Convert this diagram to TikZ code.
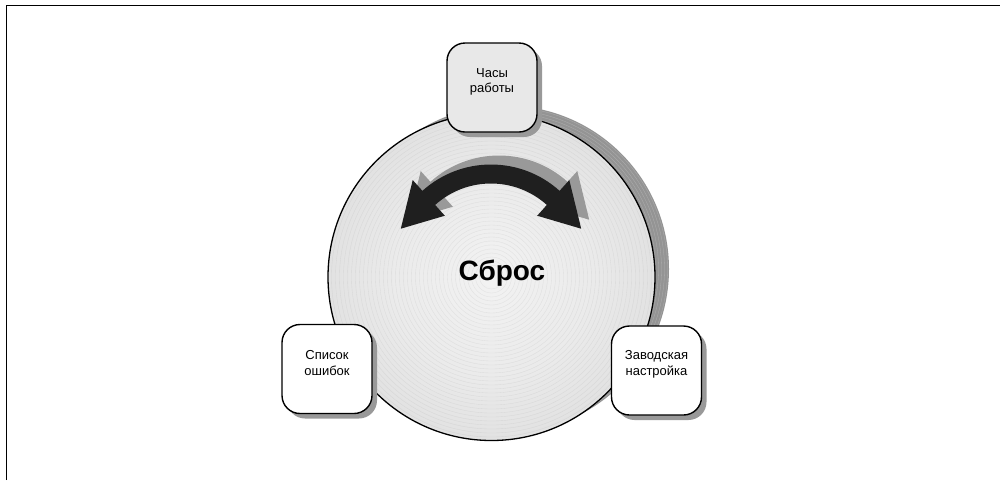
\documentclass[tikz,border=0pt]{standalone}
\usepackage{fontspec}
\setmainfont{Liberation Sans}
\pgfdeclareradialshading{discshade}{\pgfpoint{0bp}{0bp}}{color(0bp)=(black!5); color(15bp)=(black!8); color(35bp)=(black!15); color(50bp)=(black!27)}
\begin{document}
\begin{tikzpicture}[x=1pt,y=-1pt,
  box/.style={draw=black, line width=1.4pt, rounded corners=18pt, minimum width=90pt, minimum height=89pt, inner sep=0pt},
  boxshadow/.style={fill=black!40, rounded corners=18pt, minimum width=90pt, minimum height=89pt, inner sep=0pt},
  lbl/.style={font=\fontsize{13}{15.5}\selectfont, align=center, inner sep=0pt},
  ring/.style={draw=black!40, opacity=0.18, line width=0.35pt},
]
\useasboundingbox (0,0) rectangle (1000,480);
\draw[line width=1pt] (6,480) -- (6,5) -- (1000,5);

% disc shadow
\node[circle, fill=black!42, minimum size=327pt, inner sep=0pt] (discshadow) at (505.5,269) {};
\foreach \r in {150,153,...,163} \draw[white, opacity=0.25, line width=0.3pt] (discshadow.center) circle[radius=\r];
% disc
\node[circle, shading=discshade, minimum size=327pt, inner sep=0pt] (disc) at (491.5,277) {};
\foreach \r in {12,16,...,160} \draw[ring] (disc.center) circle[radius=\r];
\draw[line width=1.3pt] (disc.center) circle[radius=163.5];

% double arrow (shadow, then arrow)
\begin{scope}[shift={(491,267)}]
  \fill[black!40, shift={(8,-9)}] (-48:102.5) arc[start angle=-48,end angle=-132,radius=102.5] -- (-132:117) -- (-157:98) -- (-132:69) -- (-132:83.5) arc[start angle=-132,end angle=-48,radius=83.5] -- (-48:69) -- (-23:98) -- (-48:117) -- cycle;
  \fill[black!88] (-48:102.5) arc[start angle=-48,end angle=-132,radius=102.5] -- (-132:117) -- (-157:98) -- (-132:69) -- (-132:83.5) arc[start angle=-132,end angle=-48,radius=83.5] -- (-48:69) -- (-23:98) -- (-48:117) -- cycle;
\end{scope}

\node[font=\bfseries\fontsize{28}{32}\selectfont, anchor=base, inner sep=0pt] (reset) at (502,280) {Сброс};

% boxes
\node[boxshadow] (s1) at (497,92.5) {};
\node[box, fill=black!9] (b1) at (492,87.5) {};
\node[lbl] (t1) at (492,82) {Часы\\работы};

\node[boxshadow] (s2) at (332,374) {};
\node[box, fill=white] (b2) at (327,369) {};
\node[lbl] (t2) at (327,363) {Список\\ошибок};

\node[boxshadow] (s3) at (661.5,375.5) {};
\node[box, fill=white] (b3) at (656.5,370.5) {};
\node[lbl] (t3) at (656.5,364.5) {Заводская\\настройка};
\end{tikzpicture}
\end{document}
